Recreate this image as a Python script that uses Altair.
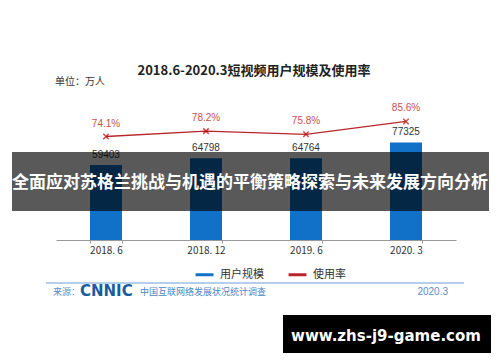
import altair as alt
import pandas as pd

periods = ["2018. 6", "2018. 12", "2019. 6", "2020. 3"]
users = [59403, 64798, 64764, 77325]
rates = [74.1, 78.2, 75.8, 85.6]
series_names = ["用户规模", "使用率"]
series_colors = ["#1170c8", "#b8262b"]

title_text = "2018.6-2020.3短视频用户规模及使用率"
unit_text = "单位：万人"
source_label = "来源："
source_logo = "CNNIC"
source_name = "中国互联网络发展状况统计调查"
source_date = "2020.3"
banner_text = "全面应对苏格兰挑战与机遇的平衡策略探索与未来发展方向分析"
site_text = "www.zhs-j9-game.com"

CJK = "Noto Sans CJK SC"

df = pd.DataFrame({
    "period": periods,
    "users": users,
    "rate": rates,
    "rate_label": [f"{r:.1f}%" for r in rates],
    "series": ["使用率"] * len(periods),
})

x_enc = alt.X(
    "period:N", sort=periods, title=None,
    scale=alt.Scale(paddingInner=0.68, paddingOuter=0.34),
    axis=alt.Axis(labelAngle=0, labelFontSize=10, labelColor="#333333",
                  labelFont=CJK, domainColor="#9a9a9a", tickColor="#9a9a9a",
                  tickBand="extent", tickSize=3, labelPadding=2, grid=False),
)

y_users = alt.Y("users:Q", scale=alt.Scale(domain=[0, 111000]), axis=None)
y_rate = alt.Y("rate:Q", scale=alt.Scale(domain=[-5, 102]), axis=None)

base = alt.Chart(df)

bars = base.mark_bar(color=series_colors[0]).encode(x=x_enc, y=y_users)
bar_labels = base.mark_text(dy=-10, fontSize=10, color="#333333", font="Liberation Sans").encode(
    x=x_enc, y=y_users, text="users:Q")

line = base.mark_line(strokeWidth=1.3).encode(
    x=x_enc, y=y_rate,
    color=alt.Color("series:N",
                    scale=alt.Scale(domain=series_names, range=series_colors),
                    legend=alt.Legend(title=None, orient="none", legendX=138, legendY=164,
                                      direction="horizontal", symbolType="stroke",
                                      symbolStrokeWidth=3, symbolSize=320,
                                      labelFontSize=11, labelFont=CJK, labelColor="#333333",
                                      labelOffset=5, columnPadding=18)),
)
markers = base.mark_point(shape="M-1,-1L1,1M-1,1L1,-1", size=30, color="#c00000",
                          strokeWidth=1.5).encode(x=x_enc, y=y_rate)
rate_labels = base.mark_text(dy=-13, fontSize=10, color="#c8504d", font="Liberation Sans").encode(
    x=x_enc, y=y_rate, text="rate_label:N")


def note(text, x, y, size, color, weight="normal", align="left", font=CJK):
    return alt.Chart(pd.DataFrame({"t": [text]})).mark_text(
        align=align, baseline="middle", fontSize=size, color=color,
        fontWeight=weight, font=font,
    ).encode(x=alt.value(x), y=alt.value(y), text="t:N")


title = note(title_text, 198, -29, 13, "#222222", weight="bold", align="center")
unit = note(unit_text, -1, -18, 10, "#333333")

footer_line = alt.Chart(pd.DataFrame({"a": [0]})).mark_rule(color="#b3cfec", strokeWidth=2).encode(
    x=alt.value(-10), x2=alt.value(408), y=alt.value(183))
src1 = note(source_label, -3, 192, 9, "#5b8fc8")
src2 = note(source_logo, 24, 191, 15, "#1a5c9e", weight="bold", font="DejaVu Sans")
src3 = note(source_name, 84, 192, 9, "#4a86c5")
src4 = note(source_date, 392, 192, 10, "#5b8fc8", align="right", font="Liberation Sans")

banner = alt.Chart(pd.DataFrame({"a": [0]})).mark_rect(color="black", opacity=0.65).encode(
    x=alt.value(-44), x2=alt.value(433), y=alt.value(52), y2=alt.value(111))
banner_t = note(banner_text, 194, 83, 17, "white", weight="bold", align="center")

site_box = alt.Chart(pd.DataFrame({"a": [0]})).mark_rect(color="black").encode(
    x=alt.value(227), x2=alt.value(435), y=alt.value(215), y2=alt.value(253))
site_t = note(site_text, 330, 236, 15, "white", weight="bold", align="center", font="DejaVu Sans")

chart = alt.layer(
    bars, bar_labels, line, markers, rate_labels,
    title, unit, footer_line, src1, src2, src3, src4,
    banner, banner_t, site_box, site_t,
).resolve_scale(y="independent").properties(
    width=400, height=140,
    autosize=alt.AutoSizeParams(type="none"),
    padding={"left": 48, "top": 92, "right": 36, "bottom": 114},
    background="white",
).configure_view(stroke=None)

chart.save("out.html", embed_options={"renderer": "svg", "actions": False})
